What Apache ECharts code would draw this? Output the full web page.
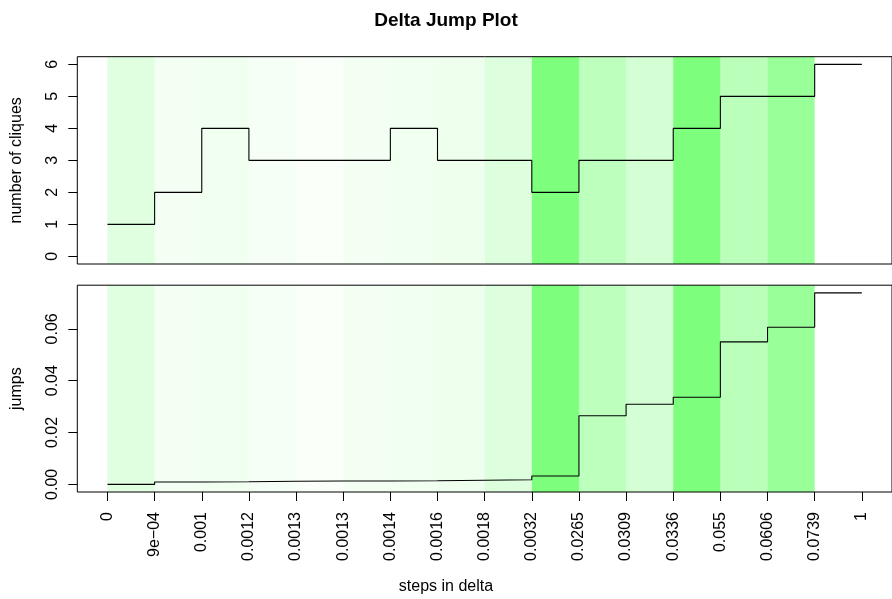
<!DOCTYPE html>
<html>
<head>
<meta charset="utf-8">
<script src="https://cdn.jsdelivr.net/npm/echarts@6/dist/echarts.min.js"></script>
<style>html,body{margin:0;padding:0;background:#fff}#c{width:892px;height:599px}</style>
</head>
<body>
<div id="c"></div>
<script>
// ---- data ----
var stepLabels = ['0','9e\u221204','0.001','0.0012','0.0013','0.0013','0.0014','0.0016','0.0018','0.0032','0.0265','0.0309','0.0336','0.055','0.0606','0.0739','1'];
var cliques = [1,2,4,3,3,3,4,3,3,2,3,3,4,5,5,6,6];
var jumps = [0,0.0009,0.001,0.0012,0.0013,0.0013,0.0014,0.0016,0.0018,0.0032,0.0265,0.0309,0.0336,0.055,0.0606,0.0739,0.0739];
var bandAlpha = [0.12,0.05,0.055,0.035,0.02,0.05,0.06,0.065,0.13,0.51,0.26,0.17,0.51,0.27,0.40,0];
var cliqueTicks = [0,1,2,3,4,5,6];
var jumpTicks = [0,0.02,0.04,0.06];

// ---- helpers ----
function ext(min, max){ var d=(max-min)*0.04; return [min-d, max+d]; }
var xIdx = stepLabels.map(function(_,i){return i;});
var xr = ext(0, xIdx.length-1);
var yr1 = ext(0, Math.max.apply(null, cliques));
var yr2 = ext(0, Math.max.apply(null, jumps));
var font = '"Liberation Sans", Arial, Helvetica, sans-serif';

var bands = [];
bandAlpha.forEach(function(a,i){
  if (a>0) bands.push([{xAxis:i, itemStyle:{color:'rgba(0,255,0,'+a+')'}},{xAxis:i+1}]);
});

function lineSeries(vals, idx){
  return {
    type:'line', xAxisIndex:idx, yAxisIndex:idx, step:'end', showSymbol:false, silent:true,
    lineStyle:{color:'#000', width:1.1}, z:3,
    data: vals.map(function(v,i){return [xIdx[i], v];}),
    markArea:{silent:true, data:bands, itemStyle:{borderWidth:0}}
  };
}

var gridCommon = {left:77.3, width:819, show:true, borderColor:'#000', borderWidth:1, backgroundColor:'transparent', z:10};

var chart = echarts.init(document.getElementById('c'), null, {renderer:'canvas'});
chart.setOption({
  animation:false,
  textStyle:{fontFamily:font},
  title:[
    {text:'Delta Jump Plot', left:'center', top:6, textStyle:{fontFamily:font, fontSize:19, fontWeight:'bold', color:'#000'}},
    {text:'steps in delta', left:'center', top:574, textStyle:{fontFamily:font, fontSize:16, fontWeight:'normal', color:'#000'}}
  ],
  grid:[
    Object.assign({top:56.7, height:207.3}, gridCommon),
    Object.assign({top:285.2, height:206.8}, gridCommon)
  ],
  xAxis:[
    {type:'value', gridIndex:0, min:xr[0], max:xr[1], axisLine:{show:false, onZero:false}, axisTick:{show:false}, axisLabel:{show:false}, splitLine:{show:false}},
    {type:'value', gridIndex:1, min:xr[0], max:xr[1], axisLine:{show:false, onZero:false}, splitLine:{show:false},
     axisTick:{show:true, customValues:xIdx, length:9, lineStyle:{color:'#000', width:1}},
     axisLabel:{show:true, customValues:xIdx, rotate:90, margin:20, fontSize:16, color:'#000', fontFamily:font,
       formatter:function(v){return stepLabels[Math.round(v)];}}}
  ],
  yAxis:[
    {type:'value', gridIndex:0, min:yr1[0], max:yr1[1], splitLine:{show:false}, axisLine:{show:false, onZero:false},
     axisTick:{show:true, customValues:cliqueTicks, length:9, lineStyle:{color:'#000'}},
     axisLabel:{show:true, customValues:cliqueTicks, rotate:90, margin:17, fontSize:16, color:'#000', fontFamily:font},
     name:'number of cliques', nameLocation:'middle', nameGap:53, nameTextStyle:{fontSize:16, color:'#000', fontFamily:font}},
    {type:'value', gridIndex:1, min:yr2[0], max:yr2[1], splitLine:{show:false}, axisLine:{show:false, onZero:false},
     axisTick:{show:true, customValues:jumpTicks, length:9, lineStyle:{color:'#000'}},
     axisLabel:{show:true, customValues:jumpTicks, rotate:90, margin:17, fontSize:16, color:'#000', fontFamily:font,
       formatter:function(v){return v.toFixed(2);}},
     name:'jumps', nameLocation:'middle', nameGap:53, nameTextStyle:{fontSize:16, color:'#000', fontFamily:font}}
  ],
  series:[lineSeries(cliques,0), lineSeries(jumps,1)]
});
</script>
</body>
</html>
